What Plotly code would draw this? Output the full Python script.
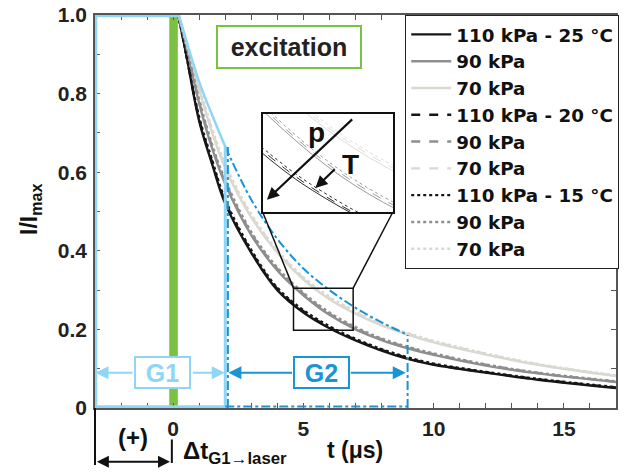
import plotly.graph_objects as go

# ---------------- data ----------------
t = [0.2, 0.5, 1.0, 1.5, 2.0, 3.0, 4.0, 5.0, 6.0, 7.0, 8.0, 9.0, 10.0, 12.0, 14.0, 17.0]

p110_25 = [1.0, 0.90, 0.73, 0.62, 0.52, 0.395, 0.300, 0.243, 0.203, 0.172, 0.146, 0.125, 0.110, 0.090, 0.072, 0.051]
p90_25  = [1.0, 0.92, 0.775, 0.66, 0.57, 0.440, 0.350, 0.287, 0.237, 0.200, 0.173, 0.152, 0.135, 0.108, 0.088, 0.066]
p70_25  = [1.0, 0.93, 0.81, 0.70, 0.61, 0.485, 0.395, 0.327, 0.277, 0.240, 0.210, 0.187, 0.167, 0.136, 0.110, 0.081]

p110_20 = [1.0, 0.90, 0.735, 0.625, 0.525, 0.398, 0.303, 0.246, 0.205, 0.174, 0.148, 0.127, 0.111, 0.091, 0.073, 0.052]
p90_20  = [1.0, 0.92, 0.78, 0.665, 0.575, 0.444, 0.354, 0.290, 0.240, 0.203, 0.175, 0.154, 0.137, 0.110, 0.089, 0.067]
p70_20  = [1.0, 0.93, 0.815, 0.705, 0.615, 0.489, 0.399, 0.330, 0.280, 0.243, 0.212, 0.189, 0.169, 0.138, 0.111, 0.082]

p110_15 = [1.0, 0.90, 0.74, 0.63, 0.53, 0.402, 0.306, 0.249, 0.208, 0.176, 0.150, 0.129, 0.113, 0.092, 0.074, 0.053]
p90_15  = [1.0, 0.925, 0.785, 0.67, 0.58, 0.448, 0.357, 0.293, 0.243, 0.206, 0.177, 0.156, 0.139, 0.111, 0.090, 0.068]
p70_15  = [1.0, 0.935, 0.82, 0.71, 0.62, 0.493, 0.402, 0.333, 0.283, 0.246, 0.214, 0.191, 0.171, 0.139, 0.112, 0.083]

labels = ["110 kPa - 25 °C", "90 kPa", "70 kPa",
          "110 kPa - 20 °C", "90 kPa", "70 kPa",
          "110 kPa - 15 °C", "90 kPa", "70 kPa"]
series = [p110_25, p90_25, p70_25, p110_20, p90_20, p70_20, p110_15, p90_15, p70_15]

# gate fits
g1_t = [0.22, 1.0, 1.5, 2.0]
g1_y = [1.0, 0.83, 0.745, 0.665]
g2_t = [2.0, 3.0, 4.0, 5.0, 6.0, 7.0, 8.0, 9.0]
g2_y = [0.665, 0.53, 0.43, 0.355, 0.30, 0.255, 0.218, 0.186]

x_ticks = [0, 5, 10, 15]
y_ticks = [0, 0.2, 0.4, 0.6, 0.8, 1.0]
y_ticklabels = ["0", "0.2", "0.4", "0.6", "0.8", "1.0"]

# ---------------- style ----------------
XR = [-3, 17]
YR = [0, 1]
colors = ["#161616", "#8e8e8e", "#dad8d1"] * 3
dashes = ["solid"] * 3 + ["dash"] * 3 + ["dot"] * 3
LB = "#8fd6f6"     # light blue
DB = "#1a94d4"     # blue
GREEN = "#7cc242"
FONT = "Liberation Sans, Arial, sans-serif"
LFONT = "DejaVu Sans, Liberation Sans, sans-serif"
PX_PER_X = 524 / (XR[1] - XR[0])

# zoom region (main-axis data coords) and inset placement (main-axis data coords)
zx = [4.62, 6.91]
zy = [0.198, 0.305]
ix = [3.435, 8.435]
iy = [0.4987, 0.748]

def xp(v):
    return (v - XR[0]) / (XR[1] - XR[0])

def yp(v):
    return (v - YR[0]) / (YR[1] - YR[0])

fig = go.Figure()

for i, (s, lab) in enumerate(zip(series, labels)):
    fig.add_trace(go.Scatter(
        x=t, y=s, mode="lines", name=lab,
        line=dict(color=colors[i], width=2.4, dash=dashes[i], shape="spline"),
    ))

for i, s in enumerate(series):
    fig.add_trace(go.Scatter(
        x=t, y=s, mode="lines", showlegend=False, xaxis="x2", yaxis="y2",
        line=dict(color=colors[i], width=0.9, dash=dashes[i], shape="spline"),
    ))

fig.add_trace(go.Scatter(x=g1_t, y=g1_y, mode="lines", showlegend=False,
                         line=dict(color=LB, width=2.5, shape="spline")))
fig.add_trace(go.Scatter(x=g2_t, y=g2_y, mode="lines", showlegend=False,
                         line=dict(color=DB, width=2, dash="dashdot", shape="spline")))

shapes = []
# excitation bar
shapes.append(dict(type="rect", x0=-0.15, x1=0.18, y0=0, y1=1, xref="x", yref="y",
                   fillcolor=GREEN, line=dict(width=0), layer="below"))
# G1 outline
for (x0, y0, x1, y1) in [(-2.97, 0, -2.97, 1), (-3, 0.998, g1_t[0], 0.998), (-3, 0.003, 2, 0.003), (2, 0, 2, g1_y[-1])]:
    shapes.append(dict(type="line", x0=x0, y0=y0, x1=x1, y1=y1, xref="x", yref="y",
                       line=dict(color=LB, width=3)))
# G2 outline
for (x0, y0, x1, y1) in [(2.1, 0, 2.1, g2_y[0]), (2, 0.004, 9, 0.004), (9, 0, 9, g2_y[-1])]:
    shapes.append(dict(type="line", x0=x0, y0=y0, x1=x1, y1=y1, xref="x", yref="y",
                       line=dict(color=DB, width=2, dash="dashdot")))
# zoom box and connectors
shapes.append(dict(type="rect", x0=zx[0], x1=zx[1], y0=zy[0], y1=zy[1], xref="x", yref="y",
                   line=dict(color="#111", width=1.5)))
shapes.append(dict(type="line", x0=zx[0], y0=zy[1], x1=ix[0], y1=iy[0], xref="x", yref="y",
                   line=dict(color="#111", width=1.5)))
shapes.append(dict(type="line", x0=zx[1], y0=zy[1], x1=ix[1], y1=iy[0], xref="x", yref="y",
                   line=dict(color="#111", width=1.5)))
# below-axis marks (paper coords, not clipped)
shapes.append(dict(type="line", x0=xp(-3), y0=yp(0), x1=xp(-3), y1=yp(-0.145),
                   xref="paper", yref="paper", line=dict(color="#111", width=2)))
shapes.append(dict(type="line", x0=xp(-0.05), y0=yp(-0.08), x1=xp(-0.05), y1=yp(-0.14),
                   xref="paper", yref="paper", line=dict(color="#111", width=2)))

ann = []
def txt(x, y, s, size, color="#222", ref="data", **kw):
    if ref == "paper":
        d = dict(x=xp(x), y=yp(y), xref="paper", yref="paper")
    else:
        d = dict(x=x, y=y, xref="x", yref="y")
    d.update(text=s, showarrow=False, xanchor="center", yanchor="middle",
             font=dict(family=FONT, size=size, color=color, weight="bold"))
    d.update(kw)
    ann.append(d)

def arrow(x, y, ax, ay, color, width=2, size=1.3, head=2, side="end"):
    ann.append(dict(x=x, y=y, ax=ax, ay=ay, xref="x", yref="y", axref="x", ayref="y",
                    text="", showarrow=True, arrowhead=head, arrowsize=size,
                    arrowwidth=width, arrowcolor=color, arrowside=side,
                    startarrowhead=head, startarrowsize=size))

txt(4.43, 0.919, "excitation", 25, "#222", bordercolor=GREEN, borderwidth=2,
    borderpad=6, width=130, height=28, bgcolor="white")

# G1
txt(-0.4, 0.09, "G1", 25, LB, bordercolor=LB, borderwidth=2, borderpad=2,
    width=49, height=25, bgcolor="white")
arrow(-2.98, 0.09, -1.5, 0.09, LB)
arrow(1.98, 0.09, 0.7, 0.09, LB)
# G2
txt(5.69, 0.09, "G2", 25, DB, bordercolor=DB, borderwidth=2, borderpad=2,
    width=49, height=25, bgcolor="white")
arrow(2.12, 0.09, 4.62, 0.09, DB)
arrow(8.93, 0.09, 6.76, 0.09, DB)

# inset arrows and labels
arrow(3.6, 0.53, 6.93, 0.738, "#111", width=2.2, size=1.1)
arrow(5.46, 0.56, 6.26, 0.611, "#111", width=2.2, size=1.1)
txt(5.5, 0.70, "p", 28, "#111")
txt(6.79, 0.62, "T", 28, "#111")

# below-axis texts (paper coords)
txt(-1.56, -0.074, "(+)", 24, "#111", ref="paper")
ann.append(dict(x=xp(-0.12), y=yp(-0.137), xref="paper", yref="paper",
                ax=-(2.85 * PX_PER_X), ay=0, text="", showarrow=True,
                arrowhead=2, arrowsize=1.2, arrowwidth=2, arrowcolor="#111",
                arrowside="end+start", startarrowhead=2, startarrowsize=1.2))
txt(0.3, -0.112, "Δt<sub>G1→laser</sub>", 24, "#111", ref="paper", xanchor="left")
txt(6.98, -0.107, "t (μs)", 23, "#111", ref="paper")

ann.append(dict(x=-0.124, y=0.505, xref="paper", yref="paper", text="I/I<sub>max</sub>",
                textangle=-90, showarrow=False, xanchor="center", yanchor="middle",
                font=dict(family=FONT, size=23, color="#111", weight="bold")))

axis_common = dict(showgrid=False, zeroline=False, showline=True, mirror="ticks",
                   linecolor="#555", linewidth=1.5, ticks="inside", ticklen=5,
                   tickcolor="#555", tickwidth=1, automargin=False,
                   tickfont=dict(family=FONT, size=21, color="#222", weight="bold"))

fig.update_layout(
    width=629, height=472,
    margin=dict(l=95, r=10, t=15, b=64),
    paper_bgcolor="white", plot_bgcolor="white",
    font=dict(family=FONT),
    xaxis=dict(range=XR, tickmode="array", tickvals=list(range(-3, 18)),
               ticktext=[str(v) if v in x_ticks else "" for v in range(-3, 18)],
               ticklabelstandoff=1, **axis_common),
    yaxis=dict(range=YR, tickmode="array",
               tickvals=[round(v * 0.1, 1) for v in range(11)],
               ticktext=[y_ticklabels[y_ticks.index(round(v * 0.1, 1))]
                         if round(v * 0.1, 1) in y_ticks else "" for v in range(11)],
               ticklabelstandoff=2, **axis_common),
    xaxis2=dict(domain=[xp(ix[0]), xp(ix[1])], range=zx, anchor="y2", automargin=False,
                showgrid=False, zeroline=False, showticklabels=False, ticks="",
                showline=True, mirror=True, linecolor="#111", linewidth=2),
    yaxis2=dict(domain=[yp(iy[0]), yp(iy[1])], range=zy, anchor="x2", automargin=False,
                showgrid=False, zeroline=False, showticklabels=False, ticks="",
                showline=True, mirror=True, linecolor="#111", linewidth=2),
    legend=dict(x=(407 - 95) / 524, y=1.0, xanchor="left", yanchor="top",
                bordercolor="#222", borderwidth=1, bgcolor="white",
                font=dict(family=LFONT, size=18.3, color="#111", weight="bold"),
                itemwidth=40, tracegroupgap=0),
    shapes=shapes,
    annotations=ann,
)

fig.write_html("out.html", config={"displayModeBar": False},
               post_script="document.body.style.margin='0';")
